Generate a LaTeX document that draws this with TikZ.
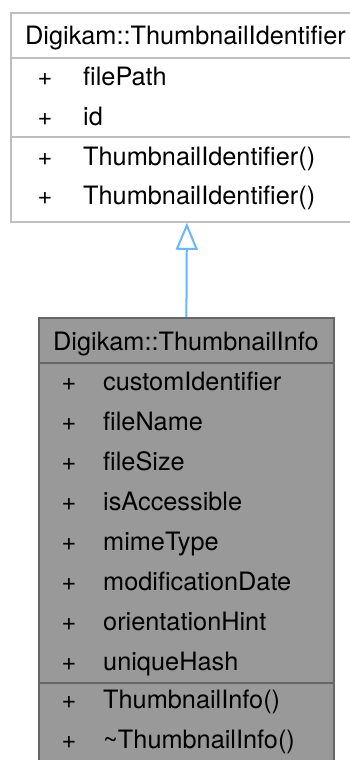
\documentclass[tikz,border=0pt]{standalone}
\usepackage{fontspec}
\setmainfont{TeX Gyre Heros}
\usetikzlibrary{arrows.meta}
\definecolor{topborder}{HTML}{BFBFBF}
\definecolor{botfill}{HTML}{999999}
\definecolor{botborder}{HTML}{666666}
\definecolor{inh}{HTML}{63B8FF}
\begin{document}
\begin{tikzpicture}[x=1pt,y=-1pt,
  txt/.style={anchor=base west, inner sep=0pt, font=\fontsize{25.3}{30}\selectfont},
  plus/.style={anchor=base, inner sep=0pt, font=\fontsize{25.3}{30}\selectfont},
  classbox/.style={anchor=north west, inner sep=0pt, line width=1.8pt}]
\useasboundingbox (0,0) rectangle (350,760);
\clip (0,0) rectangle (350,760);
\fill[white] (0,0) rectangle (350,760);
% base class
\node[classbox, draw=topborder, fill=white, minimum width=352pt, minimum height=209pt] (base) at (10,12) {};
\draw[topborder, line width=1.8pt] (10,58) -- (362,58);
\draw[topborder, line width=1.8pt] (10,137) -- (362,137);
\node[txt] (bh) at (25,45) {Digikam::ThumbnailIdentifier};
\node[plus] (bp1) at (45,85) {+};
\node[txt] (bt1) at (83,85) {filePath};
\node[plus] (bp2) at (45,125) {+};
\node[txt] (bt2) at (83,125) {id};
\node[plus] (bp3) at (45,165) {+};
\node[txt] (bt3) at (83,165) {ThumbnailIdentifier()};
\node[plus] (bp4) at (45,204) {+};
\node[txt] (bt4) at (83,204) {ThumbnailIdentifier()};
% derived class
\node[classbox, draw=botborder, fill=botfill, minimum width=295pt, minimum height=450pt] (derived) at (38,317) {};
\draw[botborder, line width=1.8pt] (38,363) -- (333,363);
\draw[botborder, line width=1.8pt] (38,683) -- (333,683);
\node[txt] (dh) at (53,350) {Digikam::ThumbnailInfo};
\foreach \n/\t [count=\i from 0] in {a/customIdentifier,b/fileName,c/fileSize,d/isAccessible,e/mimeType,f/modificationDate,g/orientationHint,h/uniqueHash}{
  \node[plus] (dp\n) at (69,390+40*\i) {+};
  \node[txt] (dt\n) at (103,390+40*\i) {\t};
}
\node[plus] (dpm1) at (69,708) {+};
\node[txt] (dtm1) at (103,708) {ThumbnailInfo()};
\node[plus] (dpm2) at (69,748) {+};
\node[txt] (dtm2) at (103,748) {\char`\~ThumbnailInfo()};
% inheritance
\draw[inh, line width=2pt, -{Triangle[open, length=27pt, width=22pt]}] (derived.north) -- (base.south);
\end{tikzpicture}
\end{document}
